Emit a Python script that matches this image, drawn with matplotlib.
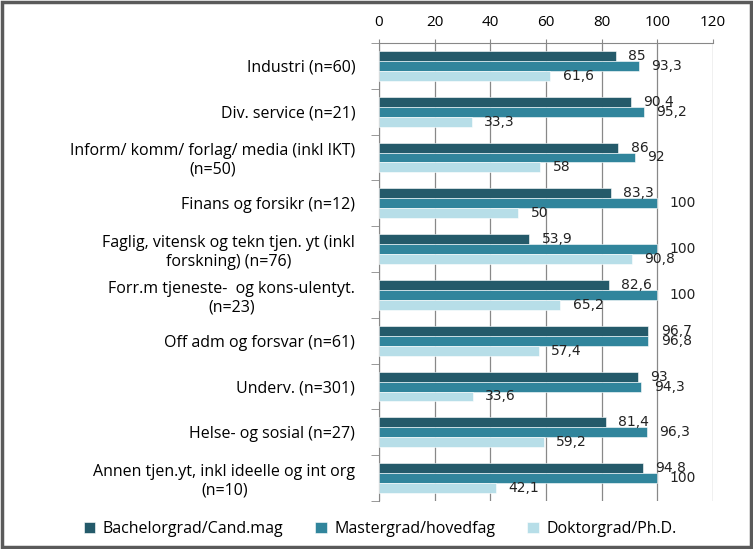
import matplotlib
matplotlib.use("Agg")
import matplotlib.pyplot as plt
from matplotlib.patches import Rectangle
import numpy as np

categories = [
    "Industri (n=60)",
    "Div. service (n=21)",
    "Inform/ komm/ forlag/ media (inkl IKT)\n(n=50)",
    "Finans og forsikr (n=12)",
    "Faglig, vitensk og tekn tjen. yt (inkl\nforskning) (n=76)",
    "Forr.m tjeneste-  og kons-ulentyt.\n(n=23)",
    "Off adm og forsvar (n=61)",
    "Underv. (n=301)",
    "Helse- og sosial (n=27)",
    "Annen tjen.yt, inkl ideelle og int org\n(n=10)",
]
bachelor = [85, 90.4, 86, 83.3, 53.9, 82.6, 96.7, 93, 81.4, 94.8]
master = [93.3, 95.2, 92, 100, 100, 100, 96.8, 94.3, 96.3, 100]
doktor = [61.6, 33.3, 58, 50, 90.8, 65.2, 57.4, 33.6, 59.2, 42.1]

series_names = ["Bachelorgrad/Cand.mag", "Mastergrad/hovedfag", "Doktorgrad/Ph.D."]
colors = ["#245a6a", "#31859c", "#b7dee8"]
xticks = [0, 20, 40, 60, 80, 100, 120]

label_font = "Open Sans"


def fmt(v):
    if float(v).is_integer():
        return str(int(v))
    return str(v).replace(".", ",")


fig = plt.figure(figsize=(7.53, 5.49), dpi=100)
ax = fig.add_axes([0.5033, 0.0874, 0.9469 - 0.5033, 0.9217 - 0.0874])

y = np.arange(len(categories))
h = 0.218
for k, (vals, name, c) in enumerate(zip([bachelor, master, doktor], series_names, colors)):
    pos = y + (k - 1) * h
    ax.barh(pos, vals, height=h, color=c, edgecolor="white", linewidth=0.4,
            label=name, zorder=3)
    for p, v in zip(pos, vals):
        ax.annotate(fmt(v), xy=(v, p), xytext=(9, 0), textcoords="offset points",
                    ha="left", va="center", fontsize=10, family="DejaVu Sans",
                    color="#222222", zorder=4)

ax.set_xlim(0, 120)
ax.set_ylim(len(categories) - 0.5, -0.5)
ax.xaxis.tick_top()
ax.set_xticks(xticks)
ax.set_xticklabels([str(t) for t in xticks], family=label_font, fontsize=11)
ax.tick_params(axis="x", length=3, color="#888888", pad=6)
ax.grid(axis="x", color="#888888", linewidth=0.9, zorder=0)

ax.set_yticks(y)
ax.set_yticklabels(categories, family=label_font, fontsize=11.5, multialignment="center")
ax.set_yticks(np.arange(len(categories) + 1) - 0.5, minor=True)
ax.tick_params(axis="y", which="major", length=0, pad=17)
ax.tick_params(axis="y", which="minor", length=6, color="#888888")

for s in ["right", "bottom"]:
    ax.spines[s].set_visible(False)
for s in ["top", "left"]:
    ax.spines[s].set_color("#888888")

fig.legend(loc="center", bbox_to_anchor=(0.505, 0.036), ncol=3, frameon=False,
           prop={"family": label_font, "size": 11.5}, handlelength=0.7,
           handleheight=0.7, columnspacing=2.0, handletextpad=0.5)

fig.patches.append(Rectangle((0.002, 0.003), 0.995, 0.994, transform=fig.transFigure,
                             fill=False, edgecolor="#5a5a5a", linewidth=2.5))

fig.savefig("out.png", dpi=100)
